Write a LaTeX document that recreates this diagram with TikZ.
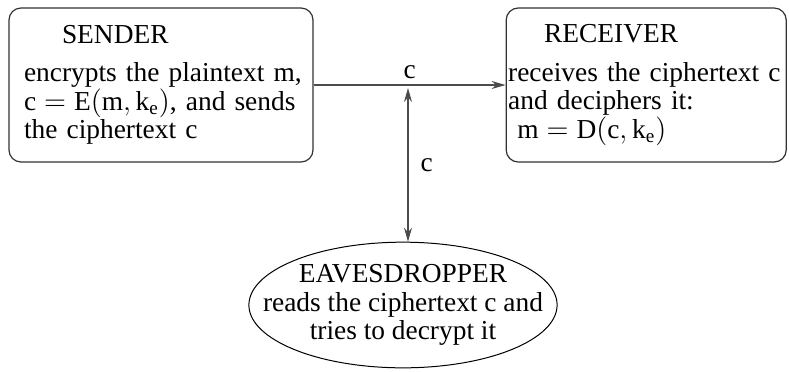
\documentclass[tikz,border=0pt]{standalone}
\usepackage{fontspec}
\setmainfont{Liberation Serif}
\usepackage{tikz}
\usetikzlibrary{positioning}
\usetikzlibrary{shapes.geometric}
\usetikzlibrary{arrows.meta}

\begin{document}
\begin{tikzpicture}[x=0.5pt, y=-0.5pt,
                          font=\fontsize{13.7}{14.2}\selectfont,
                          partynode/.style={rectangle, rounded corners=6pt, draw=black!80, line width=0.6pt, align=left, inner ysep=2pt, minimum height=77pt},
                          eavesnode/.style={ellipse, draw=black, line width=0.5pt, align=center, inner xsep=-15.5pt, inner ysep=2pt},
                          msgline/.style={draw=black!70, line width=0.6pt, -{Stealth[length=7pt, width=4pt]}},
                      ]
                      \useasboundingbox (0,0) rectangle (789,371);
                      % Nodes
                      \node[partynode, text width=141pt, inner xsep=5.5pt]        (sender)      at (161,85)   {\hspace*{21pt}SENDER\\[5pt]
                          \hspace*{2pt}encrypts the plaintext $\mathrm{m}$,\\
                          \hspace*{2pt}$\mathrm{c}=\mathrm{E}(\mathrm{m},\mathrm{k}_{\mathrm{e}})$, and sends\\
                          \hspace*{2pt}the ciphertext $\mathrm{c}$};
                      \node[partynode, text width=138pt, inner xsep=1pt]        (receiver)    [right=96pt of sender]    {\hspace*{18pt}RECEIVER\\[5pt]
                          receives the ciphertext $\mathrm{c}$\\
                          and deciphers it:\\
                          \ $\mathrm{m}=\mathrm{D}(\mathrm{c},\mathrm{k}_{\mathrm{e}})$};
                      \node[eavesnode]        (eve)         at (403,305)  {EAVESDROPPER\\
                          reads the ciphertext $\mathrm{c}$ and\\
                          tries to decrypt it};
                      \coordinate             (tap)         at (408,88);

                      %Lines
                      \draw[msgline] (sender) -- node[above, inner sep=3pt] {$\mathrm{c}$} (receiver);
                      \draw[msgline, {Stealth[length=7pt, width=4pt]}-{Stealth[length=7pt, width=4pt]}] (tap) -- node[right, inner sep=6pt] {$\mathrm{c}$} (tap |- eve.north);
\end{tikzpicture}
\end{document}
